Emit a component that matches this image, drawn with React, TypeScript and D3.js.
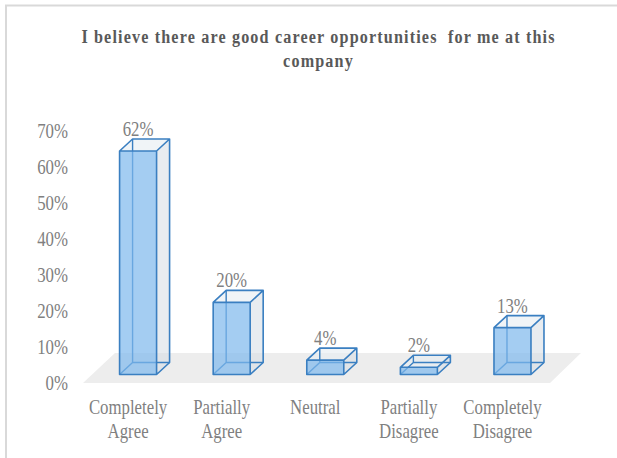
import React from "react";
import * as d3 from "d3";

const categories = [
  ["Completely", "Agree"],
  ["Partially", "Agree"],
  ["Neutral"],
  ["Partially", "Disagree"],
  ["Completely", "Disagree"],
];
const values = [62, 20, 4, 2, 13];
const valueTicks = [0, 10, 20, 30, 40, 50, 60, 70];
const titleLines = ["I believe there are good career opportunities  for me at this", "company"];

const WIDTH = 617;
const HEIGHT = 458;
const FONT = "'Liberation Serif', serif";
const GREY = "#808080";
const STROKE = "#3a7fc1";
const DEPTH_X = 13;
const DEPTH_Y = 12;
const NARROW = 0.84;

// Horizontally condensed serif label anchored at (x, y).
function Label({ x, y, anchor = "middle", children }: { x: number; y: number; anchor?: string; children: React.ReactNode }) {
  return (
    <text transform={`translate(${x},${y}) scale(${NARROW},1)`} textAnchor={anchor} fontSize={20} fill={GREY}>
      {children}
    </text>
  );
}

export default function App() {
  const x = d3
    .scaleBand<number>()
    .domain(d3.range(values.length))
    .range([91.5, 559.5])
    .paddingInner(0.6)
    .paddingOuter(0.3);
  // Bars stand on the raised base; tick labels sit on the floor's front edge.
  const y = d3.scaleLinear().domain([0, 62]).range([374.5, 151]);
  const tickY = d3.scaleLinear().domain([0, 70]).range([383, 131.5]);
  const w = 37;

  return (
    <svg
      width={WIDTH}
      height={HEIGHT}
      style={{ position: "fixed", left: 0, top: 0, background: "#fff" }}
      fontFamily={FONT}
    >
      <rect x={6} y={5.5} width={700} height={600} fill="#fff" stroke="#d9d9d9" strokeWidth={2} />

      {titleLines.map((t, i) => (
        <text
          key={i}
          transform={`translate(318.5,${42.5 + i * 24}) scale(0.85,1)`}
          textAnchor="middle"
          fontSize={19}
          fontWeight="bold"
          fill="#595959"
          letterSpacing={1.35}
          xmlSpace="preserve"
        >
          {t}
        </text>
      ))}

      <polygon points="83,383 550,383 581,353 115,353" fill="#ededed" />

      {valueTicks.map((t) => (
        <Label key={t} x={68} y={tickY(t) + 6.7} anchor="end">
          {t}%
        </Label>
      ))}

      {values.map((v, i) => {
        const l = x(i)!;
        const r = l + w;
        const b = y(0);
        const t = y(v);
        const dx = DEPTH_X;
        const dy = DEPTH_Y;
        return (
          <g key={i}>
            {/* side and top faces */}
            <polygon points={`${r},${b} ${r + dx},${b - dy} ${r + dx},${t - dy} ${r},${t}`} fill="#d5dde3" fillOpacity={0.55} />
            <polygon points={`${l},${t} ${r},${t} ${r + dx},${t - dy} ${l + dx},${t - dy}`} fill="#e6ecf1" fillOpacity={0.6} />
            {/* hidden edges seen through the translucent box */}
            <path
              d={`M${l + dx},${b - dy}V${t - dy}M${l + dx},${b - dy}H${r + dx}M${l},${b}L${l + dx},${b - dy}`}
              fill="none"
              stroke={STROKE}
              strokeWidth={1.4}
            />
            <rect x={l} y={t} width={w} height={b - t} fill="#7db8ec" fillOpacity={0.7} />
            <path
              d={`M${l},${b}H${r}V${t}H${l}Z M${r},${b}L${r + dx},${b - dy}V${t - dy}L${r},${t} M${l},${t}L${l + dx},${t - dy}H${r + dx}`}
              fill="none"
              stroke={STROKE}
              strokeWidth={1.6}
              strokeLinejoin="round"
            />
            <Label x={l + 18.5} y={t - 15}>
              {v}%
            </Label>
          </g>
        );
      })}

      {categories.map((lines, i) =>
        lines.map((s, j) => (
          <Label key={`${i}-${j}`} x={x(i)! + 8.5} y={414 + j * 24}>
            {s}
          </Label>
        ))
      )}
    </svg>
  );
}
